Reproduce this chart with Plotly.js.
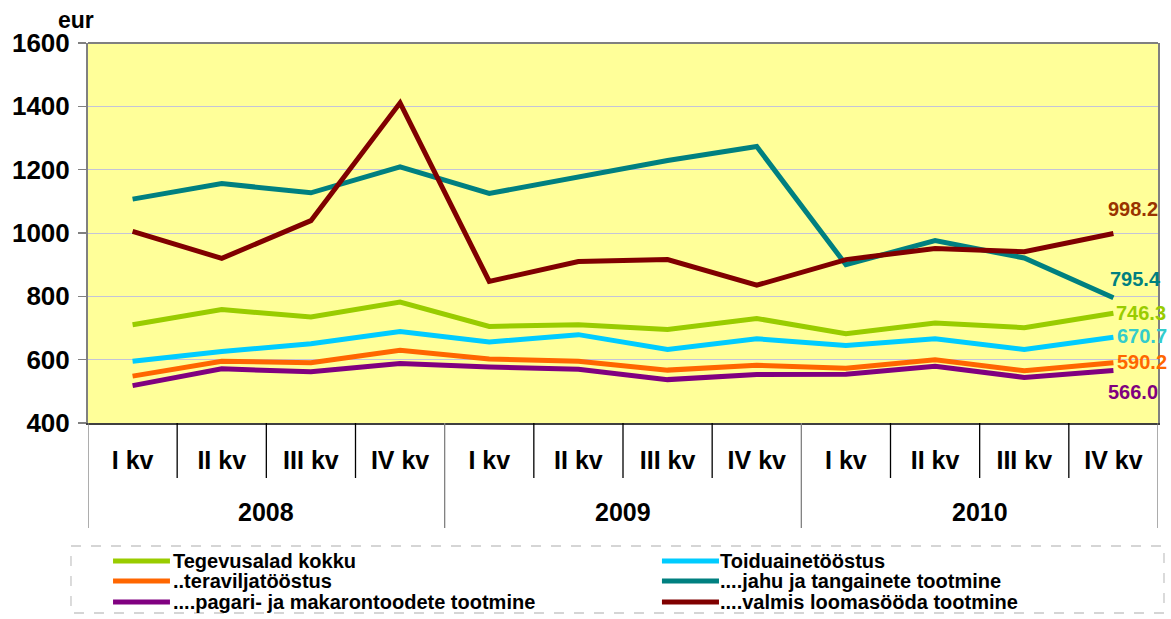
<!DOCTYPE html>
<html>
<head>
<meta charset="utf-8">
<script src="https://cdn.plot.ly/plotly-3.0.1.min.js"></script>
<style>html,body{margin:0;padding:0;background:#fff;}#chart{width:1171px;height:619px;}</style>
</head>
<body>
<div id="chart"></div>
<script>
// ---- data ----
const years = ['2008', '2009', '2010'];
const quarters = ['I kv', 'II kv', 'III kv', 'IV kv'];
const quarterLabels = ['I kv','II kv','III kv','IV kv','I kv','II kv','III kv','IV kv','I kv','II kv','III kv','IV kv'];

const seriesNames = [
  'Tegevusalad kokku',
  'Toiduainetööstus',
  '..teraviljatööstus',
  '....jahu ja tangainete tootmine',
  '....pagari- ja makarontoodete tootmine',
  '....valmis loomasööda tootmine'
];
const tegevusalad = [710, 758, 735, 782, 705, 710, 695, 730, 682, 716, 701, 746.3];
const toiduaine   = [595, 626, 650, 689, 656, 679, 632, 666, 645, 666, 632, 670.7];
const teravili    = [548, 595, 590, 630, 602, 595, 567, 582, 573, 600, 565, 590.2];
const jahu        = [1107, 1156, 1127, 1209, 1125, 1178, 1229, 1273, 900, 976, 921, 795.4];
const pagari      = [518, 571, 562, 588, 577, 570, 537, 553, 554, 579, 544, 566.0];
const looma       = [1005, 920, 1039, 1411, 847, 910, 916, 835, 916, 951, 941, 998.2];

const yTicks = [400, 600, 800, 1000, 1200, 1400, 1600];

// ---- styling ----
const FONT = 'Liberation Sans, Arial, Helvetica, sans-serif';
const colors = ['#99CC00', '#00CCFF', '#FF6600', '#008080', '#800080', '#800000'];
const labelColors = ['#99CC00', '#33CCCC', '#FF6600', '#008080', '#800080', '#993300'];
const allSeries = [tegevusalad, toiduaine, teravili, jahu, pagari, looma];
const xIdx = quarterLabels.map((_, i) => i);

// draw order: teal under maroon
const order = [0, 1, 2, 4, 3, 5];
const traces = order.map(i => ({
  type: 'scatter', mode: 'lines', name: seriesNames[i],
  x: xIdx, y: allSeries[i],
  line: {color: colors[i], width: 5},
  showlegend: false, hoverinfo: 'x+y'
}));

// end value labels: [xshift, yshift, xanchor]
const lblPos = [
  [1, 0, 'left'],
  [2, 1, 'left'],
  [2, 1, 'left'],
  [22, 19, 'center'],
  [20, -22, 'center'],
  [20, 25, 'center']
];
const annotations = [];
const last = xIdx.length - 1;
allSeries.forEach((s, i) => {
  annotations.push({
    xref: 'x', yref: 'y', x: last, y: s[last],
    text: '<b>' + s[last].toFixed(1) + '</b>',
    showarrow: false, xanchor: lblPos[i][2], yanchor: 'middle',
    xshift: lblPos[i][0], yshift: lblPos[i][1],
    font: {family: FONT, size: 20, color: labelColors[i]}
  });
});

// year labels
years.forEach((yr, k) => {
  annotations.push({
    xref: 'x', yref: 'paper', x: k * quarters.length + (quarters.length - 1) / 2, y: -0.233,
    text: '<b>' + yr + '</b>', showarrow: false, xanchor: 'center', yanchor: 'middle',
    font: {family: FONT, size: 25, color: '#000'}
  });
});

// unit label
annotations.push({
  xref: 'paper', yref: 'paper', x: -0.011, y: 1.06, text: '<b>eur</b>', showarrow: false,
  xanchor: 'center', yanchor: 'middle', font: {family: FONT, size: 23, color: '#000'}
});

// dividers
const shapes = [];
for (let i = 0; i <= xIdx.length; i++) {
  const isYear = (i % quarters.length === 0);
  shapes.push({
    type: 'line', xref: 'x', yref: 'paper', x0: i - 0.5, x1: i - 0.5,
    y0: 0, y1: isYear ? -0.2763 : -0.1447,
    line: {color: isYear ? '#808080' : '#000', width: 1.3}
  });
}
// top border
shapes.push({type: 'line', xref: 'paper', yref: 'paper', x0: 0, x1: 1, y0: 1, y1: 1,
  line: {color: '#808080', width: 2}});

// legend box (dashed)
shapes.push({type: 'rect', xref: 'paper', yref: 'paper', x0: -0.0159, x1: 1.0056, y0: -0.3237, y1: -0.50,
  line: {color: '#C8C8C8', width: 1.3, dash: '10px,10px'}, fillcolor: 'rgba(0,0,0,0)'});

// manual legend
const legRowsY = [-0.3632, -0.4158, -0.4711];
const legCols = [[0.0234, 0.0766, 0.0813], [0.5364, 0.5897, 0.5925]];
const legLayout = [[0, 0], [1, 0], [0, 1], [1, 1], [0, 2], [1, 2]]; // [col,row] per series
legLayout.forEach((cr, i) => {
  const c = legCols[cr[0]], y = legRowsY[cr[1]];
  shapes.push({type: 'line', xref: 'paper', yref: 'paper', x0: c[0], x1: c[1], y0: y, y1: y,
    line: {color: colors[i], width: 5}});
  annotations.push({xref: 'paper', yref: 'paper', x: c[2], y: y, text: '<b>' + seriesNames[i] + '</b>',
    showarrow: false, xanchor: 'left', yanchor: 'middle', xshift: -4,
    font: {family: FONT, size: 20, color: '#000'}});
});

const layout = {
  width: 1171, height: 619,
  margin: {l: 88, r: 13, t: 43, b: 196, pad: 0},
  paper_bgcolor: '#FFFFFF', plot_bgcolor: '#FFFF99',
  font: {family: FONT, color: '#000'},
  xaxis: {
    range: [-0.5, xIdx.length - 0.5], tickmode: 'array', tickvals: xIdx,
    ticktext: quarterLabels.map(q => '<b>' + q + '</b>'),
    tickfont: {family: FONT, size: 25, color: '#000'},
    ticks: '', ticklabelstandoff: 14,
    showgrid: false, zeroline: false,
    showline: true, linecolor: '#404040', linewidth: 2
  },
  yaxis: {
    range: [400, 1600], tickmode: 'array', tickvals: yTicks,
    ticktext: yTicks.map(v => '<b>' + v + '</b>'),
    tickfont: {family: FONT, size: 26, color: '#000'},
    ticks: 'outside', ticklen: 8, tickcolor: '#808080', tickwidth: 1.5, ticklabelstandoff: 3,
    showgrid: true, gridcolor: '#C4C4D8', gridwidth: 1, zeroline: false,
    showline: true, linecolor: '#808080', linewidth: 2, mirror: true
  },
  shapes: shapes,
  annotations: annotations,
  showlegend: false
};

Plotly.newPlot('chart', traces, layout, {displayModeBar: false, staticPlot: true});
</script>
</body>
</html>
